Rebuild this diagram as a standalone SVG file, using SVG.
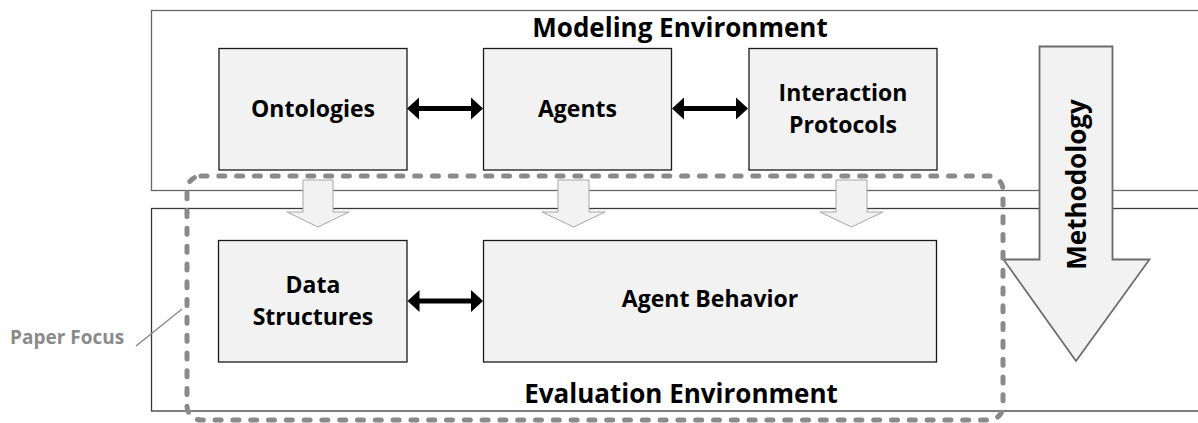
<svg xmlns="http://www.w3.org/2000/svg" width="1198" height="423" viewBox="0 0 1198 423">
  <style>
    .env { fill: #ffffff; stroke-width: 1.3; }
    .node rect { fill: #f2f2f2; stroke: #1a1a1a; stroke-width: 1.3; }
    .label { font-family: "Open Sans", "Liberation Sans", sans-serif; font-weight: bold; fill: #000000; text-anchor: middle; }
    .node .label { font-size: 23px; }
    .title { font-size: 26px; }
    .flow { fill: #f2f2f2; stroke: #a6a6a6; stroke-width: 1; }
    .link { fill: #000000; stroke: none; }
    .focus { fill: none; stroke: #8a8a8a; stroke-width: 5; stroke-linecap: round; stroke-dasharray: 6 11.8; }
  </style>

  <!-- environment frames -->
  <g id="modeling-environment">
    <rect class="env" x="151.5" y="10.5" width="1060" height="180" stroke="#666666"/>
    <text class="label title" x="680" y="37">Modeling Environment</text>
  </g>
  <g id="evaluation-environment">
    <rect class="env" x="151.5" y="208.5" width="1060" height="202.5" stroke="#3a3a3a"/>
    <text class="label title" x="681" y="403">Evaluation Environment</text>
  </g>

  <!-- derivation arrows from modeling to evaluation -->
  <g id="derivation-arrows">
    <path class="flow" d="M303 180 H333 V212 H349 L318 227 L287 212 H303 Z"/>
    <path class="flow" d="M558 180 H589 V212 H605 L573.5 227 L542 212 H558 Z"/>
    <path class="flow" d="M836 180 H867 V212 H883 L851.5 227 L820 212 H836 Z"/>
  </g>

  <!-- methodology arrow -->
  <g id="methodology">
    <path d="M1039.5 46.5 H1112.5 V259.5 H1149.5 L1076 361 L1003.5 259.5 H1039.5 Z" fill="#f2f2f2" stroke="#6b6b6b" stroke-width="1.8"/>
    <text class="label title" transform="translate(1086,184.5) rotate(-90)" x="0" y="0" font-size="27">Methodology</text>
  </g>

  <!-- nodes -->
  <g id="ontologies" class="node">
    <rect x="219" y="48.5" width="188" height="121.5"/>
    <text class="label" x="313" y="117">Ontologies</text>
  </g>
  <g id="agents" class="node">
    <rect x="483.5" y="48.5" width="188" height="121.5"/>
    <text class="label" x="577.5" y="117">Agents</text>
  </g>
  <g id="interaction-protocols" class="node">
    <rect x="749" y="48.5" width="188" height="121.5"/>
    <text class="label" x="843" y="100.5">Interaction</text>
    <text class="label" x="843" y="132.5">Protocols</text>
  </g>
  <g id="data-structures" class="node">
    <rect x="218.5" y="240.5" width="188.5" height="121.5"/>
    <text class="label" x="313" y="293">Data</text>
    <text class="label" x="313" y="325">Structures</text>
  </g>
  <g id="agent-behavior" class="node">
    <rect x="483.5" y="240.5" width="453" height="121.5"/>
    <text class="label" x="710" y="307">Agent Behavior</text>
  </g>

  <!-- bidirectional connectors -->
  <g id="connectors">
    <path class="link" d="M407 108.5 L419 97.5 V106 H471 V97.5 L483 108.5 L471 119.5 V111 H419 V119.5 Z"/>
    <path class="link" d="M672 108.5 L684 97.5 V106 H736 V97.5 L748 108.5 L736 119.5 V111 H684 V119.5 Z"/>
    <path class="link" d="M407.5 301 L419.5 290 V298.5 H471 V290 L483 301 L471 312 V303.5 H419.5 V312 Z"/>
  </g>

  <!-- paper focus outline and callout -->
  <g id="paper-focus">
    <rect class="focus" x="187" y="176" width="816" height="244" rx="14" ry="14"/>
    <line x1="136" y1="346" x2="182" y2="309" stroke="#8a8a8a" stroke-width="1.5"/>
    <text x="10" y="343.5" font-family="Open Sans, Liberation Sans, sans-serif" font-weight="bold" font-size="19" fill="#8a8a8a">Paper Focus</text>
  </g>
</svg>
